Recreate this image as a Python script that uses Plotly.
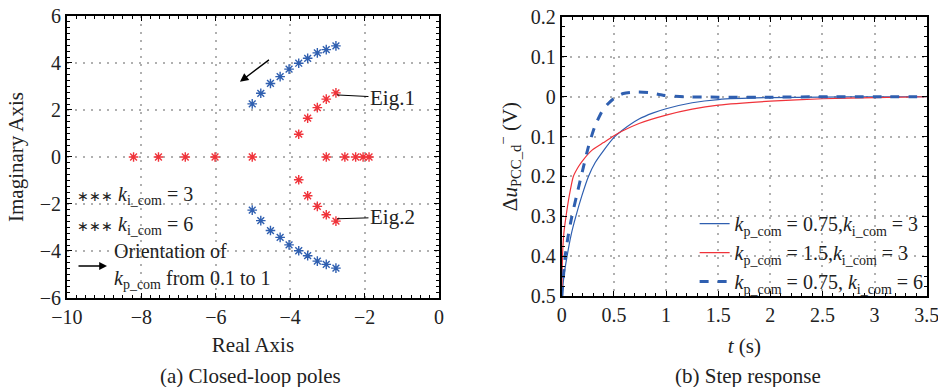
import plotly.graph_objects as go

# ---- Closed-loop poles (a) ----
ki6_re = [-5.02, -4.79, -4.53, -4.27, -4.03, -3.77, -3.53, -3.27, -3.03, -2.77]
ki6_im = [2.26, 2.71, 3.13, 3.42, 3.74, 3.99, 4.20, 4.43, 4.57, 4.73]

ki3_cplx_re = [-3.77, -3.53, -3.27, -3.03, -2.77]
ki3_cplx_im = [0.97, 1.65, 2.10, 2.46, 2.73]
ki3_real = [-8.21, -7.54, -6.82, -6.02, -5.02, -3.03, -2.53, -2.24, -2.04, -1.88]

# ---- Step response (b) ----
t_kp075_ki3 = [0, 0.02, 0.05, 0.09, 0.134, 0.19, 0.255, 0.32, 0.4, 0.5, 0.58, 0.74, 0.87,
               1.0, 1.25, 1.5, 2.0, 2.5, 3.0, 3.5]
resp_kp075_ki3 = [-0.5, -0.45, -0.4, -0.345, -0.3, -0.25, -0.2, -0.165, -0.135, -0.102, -0.084,
                  -0.056, -0.041, -0.03, -0.015, -0.007, -0.002, -0.001, 0.0, 0.0]
t_kp15_ki3 = [0, 0.006, 0.02, 0.04, 0.07, 0.11, 0.16, 0.2, 0.29, 0.4, 0.5, 0.58, 0.74,
              1.0, 1.25, 1.5, 2.0, 2.5, 3.0, 3.5]
resp_kp15_ki3 = [-0.5, -0.4, -0.34, -0.3, -0.25, -0.2, -0.175, -0.16, -0.134, -0.115, -0.098,
                 -0.086, -0.067, -0.046, -0.031, -0.021, -0.011, -0.005, -0.002, 0.0]
t_kp075_ki6 = [0, 0.032, 0.06, 0.096, 0.14, 0.185, 0.255, 0.32, 0.4, 0.5, 0.59, 0.72, 0.85,
               0.97, 1.17, 1.5, 2.0, 2.5, 3.0, 3.5]
resp_kp075_ki6 = [-0.5, -0.4, -0.35, -0.3, -0.25, -0.2, -0.125, -0.072, -0.03, -0.004, 0.008,
                  0.012, 0.01, 0.004, 0.0, -0.001, -0.001, 0.0, 0.0, 0.0]

x_ticks_a = [-10, -8, -6, -4, -2, 0]
y_ticks_a = [-6, -4, -2, 0, 2, 4, 6]
x_ticks_b = [0, 0.5, 1, 1.5, 2, 2.5, 3, 3.5]
x_ticktext_b = ["0", "0.5", "1", "1.5", "2", "2.5", "3", "3.5"]
y_ticks_b = [0.2, 0.1, 0, -0.1, -0.2, -0.3, -0.4, -0.5]
y_ticktext_b = ["0.2", "0.1", "0", "0.1", "0.2", "0.3", "0.4", "0.5"]

BLUE = "#2f5fb0"
RED = "#f0333a"
FONT = "Liberation Serif, Times New Roman, serif"
TXT = "#222"

fig = go.Figure()

fig.add_trace(go.Scatter(x=ki6_re + ki6_re, y=ki6_im + [-v for v in ki6_im], mode="markers",
                         marker=dict(symbol="asterisk-open", size=8, color=BLUE,
                                     line=dict(width=1.4, color=BLUE)),
                         showlegend=False, xaxis="x", yaxis="y"))
fig.add_trace(go.Scatter(x=ki3_cplx_re + ki3_cplx_re + ki3_real,
                         y=ki3_cplx_im + [-v for v in ki3_cplx_im] + [0] * len(ki3_real),
                         mode="markers",
                         marker=dict(symbol="asterisk-open", size=8, color=RED,
                                     line=dict(width=1.4, color=RED)),
                         showlegend=False, xaxis="x", yaxis="y"))

kp = "<i>k</i><sub>p_com</sub>"
ki = "<i>k</i><sub>i_com</sub>"
fig.add_trace(go.Scatter(x=t_kp075_ki3, y=resp_kp075_ki3, mode="lines",
                         line=dict(color=BLUE, width=1.2, shape="spline", smoothing=0.6),
                         name=f"{kp} = 0.75,{ki} = 3", xaxis="x2", yaxis="y2"))
fig.add_trace(go.Scatter(x=t_kp15_ki3, y=resp_kp15_ki3, mode="lines",
                         line=dict(color=RED, width=1.2, shape="spline", smoothing=0.6),
                         name=f"{kp} = 1.5,{ki} = 3", xaxis="x2", yaxis="y2"))
fig.add_trace(go.Scatter(x=t_kp075_ki6, y=resp_kp075_ki6, mode="lines",
                         line=dict(color=BLUE, width=3, dash="dash", shape="spline", smoothing=0.6),
                         name=f"{kp} = 0.75, {ki} = 6", xaxis="x2", yaxis="y2"))

axis_common = dict(showline=True, linecolor="black", linewidth=2, mirror="ticks", ticks="inside",
                   ticklen=5, tickcolor="black", showgrid=True, gridcolor="#b0b0b0",
                   griddash="2px,6px", gridwidth=2, zeroline=False, automargin=False,
                   ticklabeloverflow="allow",
                   tickfont=dict(family=FONT, size=20, color=TXT))

def minor(d):
    return dict(ticks="inside", ticklen=3, dtick=d, tickcolor="black", showgrid=False)

fig.update_layout(
    width=938, height=387, margin=dict(l=0, r=0, t=0, b=0, autoexpand=False),
    paper_bgcolor="white", plot_bgcolor="white",
    font=dict(family=FONT, color=TXT),
    xaxis=dict(domain=[0.0714, 0.468], range=[-10, 0], tickvals=x_ticks_a,
               ticktext=[("−" + str(-v)) if v < 0 else str(v) for v in x_ticks_a],
               title=dict(text="Real Axis", font=dict(size=21), standoff=10),
               minor=minor(0.25), anchor="y", **axis_common),
    yaxis=dict(domain=[0.23, 0.9587], range=[-6, 6], tickvals=y_ticks_a,
               ticktext=[("−" + str(-v)) if v < 0 else str(v) for v in y_ticks_a],
               title=dict(text="Imaginary Axis", font=dict(size=21), standoff=10),
               minor=minor(0.25), anchor="x", **axis_common),
    xaxis2=dict(domain=[0.599, 0.988], range=[0, 3.5], tickvals=x_ticks_b, ticktext=x_ticktext_b,
                title=dict(text="<i>t</i> (s)", font=dict(size=21), standoff=13),
                minor=minor(0.1), anchor="y2", **axis_common),
    yaxis2=dict(domain=[0.235, 0.956], range=[-0.5, 0.2], tickvals=y_ticks_b, ticktext=y_ticktext_b,
                title=dict(text="Δ<i>u</i><sub>PCC_d</sub><sup>−</sup> (V)", font=dict(size=21), standoff=8),
                minor=minor(0.025), anchor="x2", **axis_common),
    legend=dict(x=0.99, xanchor="right", y=0.222, yanchor="bottom", bgcolor="rgba(0,0,0,0)",
                font=dict(family=FONT, size=20, color=TXT), tracegroupgap=0, itemwidth=30),
    showlegend=True,
)

ann = []
# in-plot arrow (direction of kp increase)
ann.append(dict(x=-5.35, y=3.2, ax=-4.53, ay=4.18, xref="x", yref="y", axref="x", ayref="y",
                text="", showarrow=True, arrowhead=2, arrowsize=1.3, arrowwidth=1.3, arrowcolor="black"))
# Eig labels
ann.append(dict(x=-2.74, y=2.64, ax=-1.25, ay=2.52, xref="x", yref="y", axref="x", ayref="y",
                text="Eig.1", showarrow=True, arrowhead=0, arrowwidth=1, arrowcolor="black",
                font=dict(size=21, family=FONT, color=TXT)))
ann.append(dict(x=-2.74, y=-2.63, ax=-1.25, ay=-2.56, xref="x", yref="y", axref="x", ayref="y",
                text="Eig.2", showarrow=True, arrowhead=0, arrowwidth=1, arrowcolor="black",
                font=dict(size=21, family=FONT, color=TXT)))
# left legend-like texts
star_txt = "<span style='font-size:14px'>∗∗∗</span> "
for txt, xp, yp in [(star_txt + f"{ki} = 3", 75, 195), (star_txt + f"{ki} = 6", 75, 225),
                    ("Orientation of", 112, 251), (f"{kp} from 0.1 to 1", 112, 279)]:
    ann.append(dict(x=xp / 938, y=1 - yp / 387, xref="paper", yref="paper", xanchor="left",
                    yanchor="middle", text=txt, showarrow=False,
                    font=dict(size=20, family=FONT, color=TXT)))
ann.append(dict(x=107 / 938, y=1 - 266 / 387, ax=-30, ay=0, xref="paper", yref="paper",
                text="", showarrow=True, arrowhead=2, arrowsize=1.2, arrowwidth=1.3, arrowcolor="black"))
# captions
ann.append(dict(x=250 / 938, y=1 - 376 / 387, xref="paper", yref="paper", xanchor="center", yanchor="middle",
                text="(a) Closed-loop poles", showarrow=False, font=dict(size=21, family=FONT, color=TXT)))
ann.append(dict(x=748 / 938, y=1 - 376 / 387, xref="paper", yref="paper", xanchor="center", yanchor="middle",
                text="(b) Step response", showarrow=False, font=dict(size=21, family=FONT, color=TXT)))
fig.update_layout(annotations=ann)

fig.write_html("out.html")
